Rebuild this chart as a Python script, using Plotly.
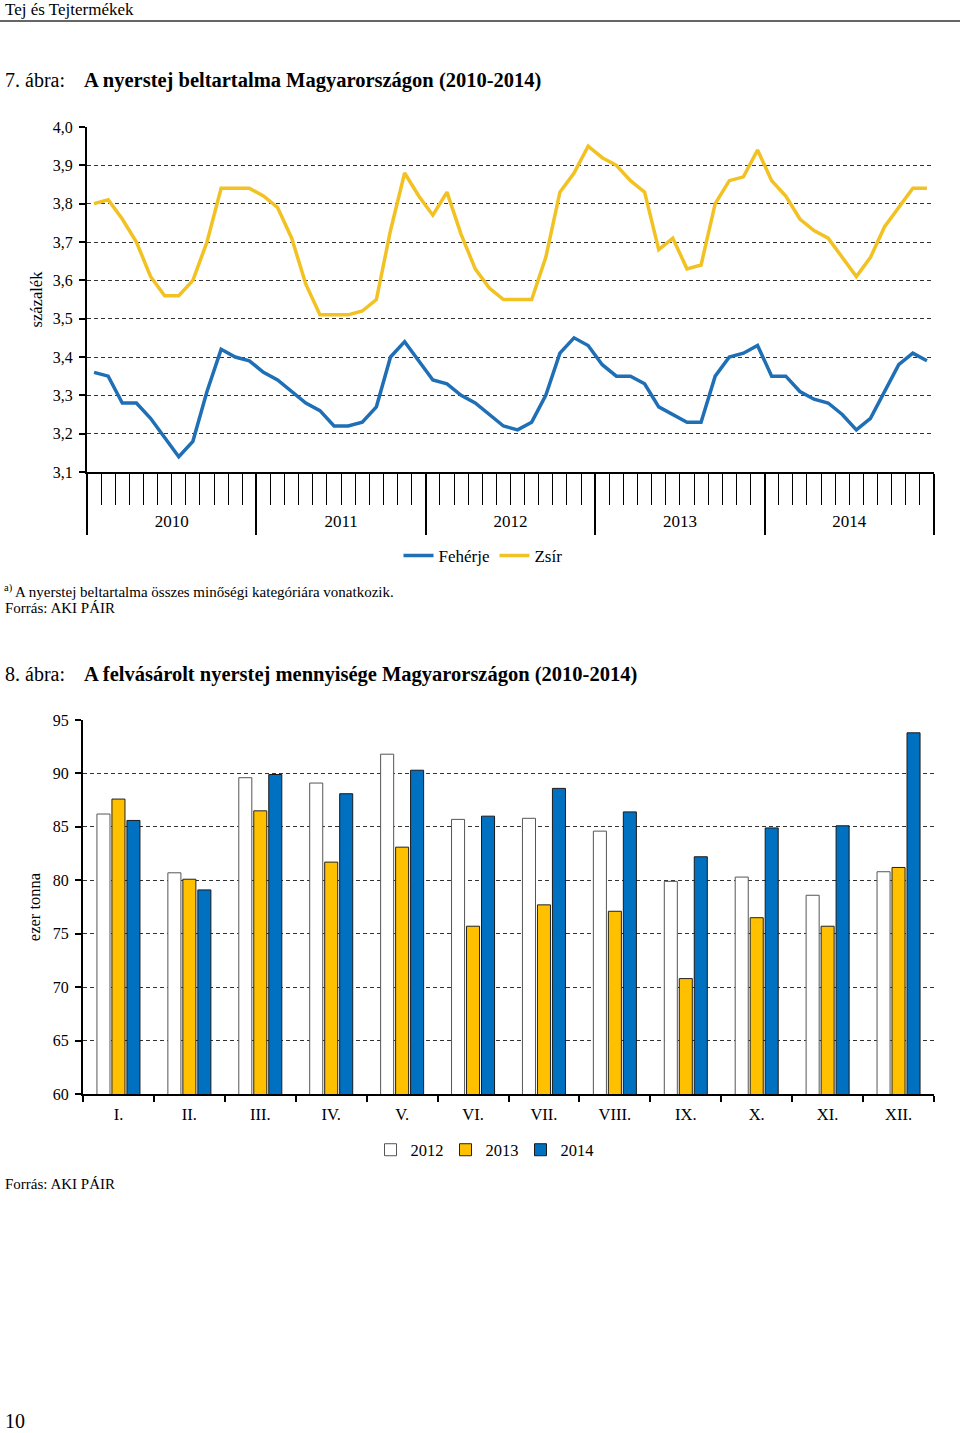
import plotly.graph_objects as go

W, H = 960, 1433

# ---------------- data: chart 1 (monthly, 2010-2014) ----------------
years = ["2010", "2011", "2012", "2013", "2014"]
feherje = [3.36, 3.35, 3.28, 3.28, 3.24, 3.19, 3.14, 3.18, 3.31, 3.42, 3.40, 3.39,
           3.36, 3.34, 3.31, 3.28, 3.26, 3.22, 3.22, 3.23, 3.27, 3.40, 3.44, 3.39,
           3.34, 3.33, 3.30, 3.28, 3.25, 3.22, 3.21, 3.23, 3.30, 3.41, 3.45, 3.43,
           3.38, 3.35, 3.35, 3.33, 3.27, 3.25, 3.23, 3.23, 3.35, 3.40, 3.41, 3.43,
           3.35, 3.35, 3.31, 3.29, 3.28, 3.25, 3.21, 3.24, 3.31, 3.38, 3.41, 3.39]
zsir = [3.80, 3.81, 3.76, 3.70, 3.61, 3.56, 3.56, 3.60, 3.70, 3.84, 3.84, 3.84,
        3.82, 3.79, 3.71, 3.59, 3.51, 3.51, 3.51, 3.52, 3.55, 3.73, 3.88, 3.82,
        3.77, 3.83, 3.72, 3.63, 3.58, 3.55, 3.55, 3.55, 3.66, 3.83, 3.88, 3.95,
        3.92, 3.90, 3.86, 3.83, 3.68, 3.71, 3.63, 3.64, 3.80, 3.86, 3.87, 3.94,
        3.86, 3.82, 3.76, 3.73, 3.71, 3.66, 3.61, 3.66, 3.74, 3.79, 3.84, 3.84]
months_idx = list(range(len(feherje)))

# ---------------- data: chart 2 (monthly purchase, thousand tonnes) ----------------
months = ["I.", "II.", "III.", "IV.", "V.", "VI.", "VII.", "VIII.", "IX.", "X.", "XI.", "XII."]
v2012 = [86.2, 80.7, 89.6, 89.1, 91.8, 85.7, 85.8, 84.6, 79.9, 80.3, 78.6, 80.8]
v2013 = [87.6, 80.1, 86.5, 81.7, 83.1, 75.7, 77.7, 77.1, 70.8, 76.5, 75.7, 81.2]
v2014 = [85.6, 79.1, 89.9, 88.1, 90.3, 86.0, 88.6, 86.4, 82.2, 84.9, 85.1, 93.8]

FONT = "Liberation Serif"
BLUE_L = "#1F6FB6"
YEL_L = "#F2C122"


def px_x(x):
    return x / W


def px_y(y):
    return 1 - y / H


fig = go.Figure()

fig.add_trace(go.Scatter(x=months_idx, y=feherje, mode="lines", name="Fehérje",
                         line=dict(color=BLUE_L, width=3.5), xaxis="x", yaxis="y",
                         legend="legend"))
fig.add_trace(go.Scatter(x=months_idx, y=zsir, mode="lines", name="Zsír",
                         line=dict(color=YEL_L, width=3.5), xaxis="x", yaxis="y",
                         legend="legend"))
# carrier for year label axis
fig.add_trace(go.Scatter(x=[], y=[], xaxis="x3", yaxis="y", showlegend=False))

bar_specs = [("2012", v2012, "white", "#555555"),
             ("2013", v2013, "#FFC000", "#222222"),
             ("2014", v2014, "#0070C0", "#1a1a1a")]
for name, vals, col, lc in bar_specs:
    fig.add_trace(go.Bar(x=months, y=vals, name=name, xaxis="x2", yaxis="y2",
                         marker=dict(color=col, line=dict(color=lc, width=1)),
                         legend="legend2"))

n = len(feherje)
year_bounds = [-0.5 + 12 * k for k in range(len(years) + 1)]
month_bounds = [-0.5 + k for k in range(n + 1)]
year_centers = [5.5 + 12 * k for k in range(len(years))]

grid_dash = "4px,3px"
tickfont = dict(family=FONT, size=16, color="black")

fig.update_layout(
    width=W, height=H,
    margin=dict(l=0, r=0, t=0, b=0, autoexpand=False),
    paper_bgcolor="white", plot_bgcolor="white",
    separators=",.",
    font=dict(family=FONT, color="black"),
    barmode="group", bargap=0.366, bargroupgap=0.13,
    xaxis=dict(domain=[px_x(87), px_x(934)], anchor="y", range=[-0.5, n - 0.5],
               tickmode="array", tickvals=year_bounds, showticklabels=False,
               ticks="outside", ticklen=61, tickwidth=1.8, tickcolor="black",
               minor=dict(tickmode="array", tickvals=month_bounds, ticks="outside",
                          ticklen=31, tickwidth=1.3, tickcolor="black", showgrid=False),
               showline=True, linecolor="black", linewidth=2, showgrid=False,
               zeroline=False, fixedrange=True),
    xaxis3=dict(overlaying="x", anchor="y", side="bottom", range=[-0.5, n - 0.5],
                tickmode="array", tickvals=year_centers, ticktext=years,
                ticks="", showline=False, showgrid=False, zeroline=False,
                tickfont=dict(family=FONT, size=17, color="black"), ticklabelstandoff=37),
    yaxis=dict(domain=[px_y(472), px_y(127)], anchor="x", range=[3.1, 4.0],
               tickmode="linear", tick0=3.1, dtick=0.1, tickformat=".1f",
               ticks="outside", ticklen=6, tickwidth=1.5, tickcolor="black",
               showline=True, linecolor="black", linewidth=2,
               showgrid=True, gridcolor="#333333", gridwidth=1, griddash=grid_dash,
               zeroline=False, tickfont=tickfont, ticklabelstandoff=3,
               title=dict(text="százalék", font=dict(family=FONT, size=16.5), standoff=6)),
    xaxis2=dict(domain=[px_x(83), px_x(934)], anchor="y2", type="category",
                tickson="boundaries", ticks="outside", ticklen=6, tickwidth=2,
                tickcolor="black", showline=True, linecolor="black", linewidth=2,
                showgrid=False, tickfont=dict(family=FONT, size=16.5, color="black"),
                ticklabelstandoff=4),
    yaxis2=dict(domain=[px_y(1094), px_y(720)], anchor="x2", range=[60, 95],
                tickmode="linear", tick0=60, dtick=5,
                ticks="outside", ticklen=6, tickwidth=1.5, tickcolor="black",
                showline=True, linecolor="black", linewidth=2,
                showgrid=True, gridcolor="#333333", gridwidth=1, griddash=grid_dash,
                zeroline=False, tickfont=tickfont, ticklabelstandoff=3,
                title=dict(text="ezer tonna", font=dict(family=FONT, size=16.5), standoff=8)),
    legend=dict(orientation="h", x=px_x(483), xanchor="center", y=px_y(556),
                yanchor="middle", font=dict(family=FONT, size=17, color="black"),
                bgcolor="rgba(0,0,0,0)", itemwidth=30, tracegroupgap=0),
    legend2=dict(orientation="h", x=px_x(483), xanchor="center", y=px_y(1150),
                 yanchor="middle", font=dict(family=FONT, size=16.5, color="black"),
                 bgcolor="rgba(0,0,0,0)", itemwidth=30, tracegroupgap=0,
                 entrywidth=30, entrywidthmode="pixels"),
    showlegend=True,
)

# header line
fig.add_shape(type="line", xref="paper", yref="paper", x0=0, x1=1,
              y0=px_y(21), y1=px_y(21), line=dict(color="#333333", width=1.5))


def txt(x, y, text, size, **kw):
    fig.add_annotation(x=px_x(x), y=px_y(y), xref="paper", yref="paper", text=text,
                       showarrow=False, xanchor="left", yanchor="middle",
                       font=dict(family=FONT, size=size, color="black"), **kw)


txt(3, 10, "Tej és Tejtermékek", 17)
txt(3, 80, "7. ábra:", 20)
txt(82, 80, "<b>A nyerstej beltartalma Magyarországon (2010-2014)</b>", 20.5)
txt(2, 591, "<sup>a)</sup> A nyerstej beltartalma összes minőségi kategóriára vonatkozik.", 15)
txt(3, 608, "Forrás: AKI PÁIR", 15)
txt(3, 674, "8. ábra:", 20)
txt(82, 674, "<b>A felvásárolt nyerstej mennyisége Magyarországon (2010-2014)</b>", 20.5)
txt(3, 1184, "Forrás: AKI PÁIR", 15)
txt(3, 1421, "10", 20)

fig.write_html("out.html")
